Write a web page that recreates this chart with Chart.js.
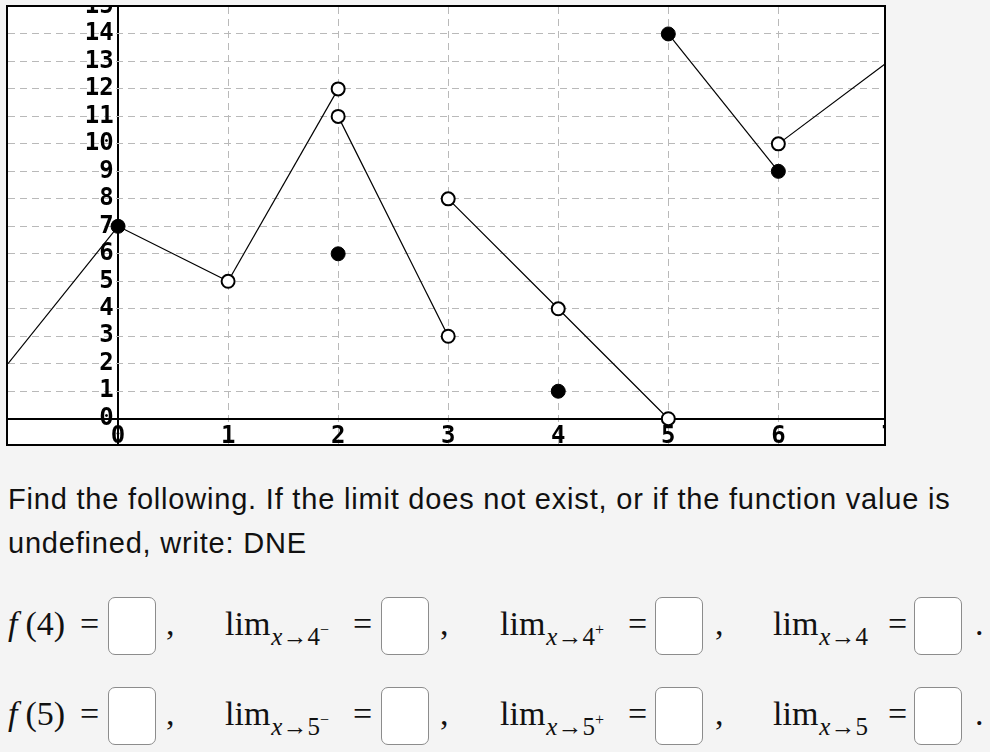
<!DOCTYPE html>
<html>
<head>
<meta charset="utf-8">
<script src="https://cdn.jsdelivr.net/npm/chart.js@4.4.1/dist/chart.umd.min.js"></script>
<style>
  html, body { margin: 0; padding: 0; background: #f4f4f4; }
  body { width: 990px; height: 752px; position: relative; overflow: hidden; }
  #frame { position: absolute; left: 6px; top: 5px; width: 876px; height: 437px;
           border: 2px solid #000; background: #fff; overflow: hidden; }
  #graph { position: absolute; left: -20px; top: -20px; }
  .prompt { position: absolute; left: 8px; top: 477px; width: 985px; letter-spacing: 0.8px;
            font-family: "Liberation Sans", Arial, sans-serif; font-size: 29px; line-height: 44px; color: #111; }
  .m { position: absolute; font-family: "Liberation Serif", "Times New Roman", serif;
       font-size: 34px; line-height: 34px; color: #111; white-space: nowrap; }
  .m i { font-style: italic; }
  .fn { margin-right: 8px; }
  .sub { font-size: 25px; vertical-align: -10px; margin-left: 1px; }
  .sup { font-size: 16px; vertical-align: 10px; }
  .box { position: absolute; width: 46px; height: 56px; background: #fff;
         border: 1.5px solid #8c8c8c; border-radius: 7px; }
</style>
</head>
<body>
<div id="frame"><canvas id="graph" width="916" height="477"></canvas></div>

<div class="prompt">Find the following. If the limit does not exist, or if the function value is<br>undefined, write: DNE</div>

<div id="answers"></div>

<script>
// graph pieces
const segX = [[-1, 0], [0, 1], [1, 2], [2, 3], [3, 4, 5], [5, 6], [6, 7]];
const segY = [[2, 7], [7, 5], [5, 12], [11, 3], [8, 4, 0], [14, 9], [10, 13]];
const filledX = [0, 2, 4, 5, 6];
const filledY = [7, 6, 1, 14, 9];
const openX = [1, 2, 2, 3, 3, 4, 5, 6];
const openY = [5, 12, 11, 3, 8, 4, 0, 10];
const xTickValues = [0, 1, 2, 3, 4, 5, 6, 7];
const yTickValues = [0, 1, 2, 3, 4, 5, 6, 7, 8, 9, 10, 11, 12, 13, 14, 15];

const toPts = (xs, ys) => xs.map((x, i) => ({ x: x, y: ys[i] }));

const datasets = [
    { data: toPts(filledX, filledY), showLine: false, pointRadius: 7, pointBorderWidth: 1,
      pointBackgroundColor: '#000', pointBorderColor: '#000' },
    { data: toPts(openX, openY), showLine: false, pointRadius: 6.5, pointBorderWidth: 2,
      pointBackgroundColor: '#fff', pointBorderColor: '#000' }
];
segX.forEach((xs, i) => {
    datasets.push({ data: toPts(xs, segY[i]), showLine: true, pointRadius: 0,
        borderColor: '#000', borderWidth: 1.2 });
});

const tickFont = { family: 'DejaVu Sans Mono', weight: 'bold', size: 24 };
const isZero = (ctx) => ctx.tick && ctx.tick.value === 0;

new Chart(document.getElementById('graph'), {
    type: 'scatter',
    data: { datasets: datasets },
    options: {
        responsive: false, animation: false,
        layout: { padding: 20 },
        plugins: { legend: { display: false }, tooltip: { enabled: false } },
        scales: {
            x: {
                type: 'linear', min: -1, max: 6.96, position: { y: 0 },
                afterBuildTicks: (s) => { s.ticks = xTickValues.map(v => ({ value: v })); },
                // the x = 0 grid line doubles as the y axis
                grid: { color: (ctx) => isZero(ctx) ? '#000' : '#b9b9b9',
                        lineWidth: (ctx) => isZero(ctx) ? 2 : 1, drawTicks: false },
                border: { display: true, color: '#000', width: 2,
                          dash: (ctx) => isZero(ctx) ? [] : [7, 5] },
                ticks: { autoSkip: false, maxRotation: 0, padding: 4, color: '#000', font: tickFont }
            },
            y: {
                type: 'linear', min: -0.92, max: 14.98, position: { x: -0.04 },
                afterBuildTicks: (s) => { s.ticks = yTickValues.map(v => ({ value: v })); },
                grid: { color: (ctx) => isZero(ctx) ? 'rgba(0,0,0,0)' : '#b9b9b9',
                        lineWidth: 1, drawTicks: false },
                border: { display: false, dash: [7, 5] },
                ticks: { autoSkip: false, color: '#000', font: tickFont }
            }
        }
    }
});

// answer rows under the graph
const rowTops = [607, 697];
const rowNums = ['4', '5'];
const ans = document.getElementById('answers');
function put(html, left, top) {
    const d = document.createElement('div');
    d.className = 'm';
    d.style.left = left + 'px';
    d.style.top = top + 'px';
    d.innerHTML = html;
    ans.appendChild(d);
}
function box(left, top) {
    const d = document.createElement('div');
    d.className = 'box';
    d.style.left = left + 'px';
    d.style.top = top + 'px';
    ans.appendChild(d);
}
rowTops.forEach((t, r) => {
    const n = rowNums[r];
    const bt = t - 10;
    put('<i class="fn">f</i>(' + n + ')', 8, t); put('=', 80, t); box(108, bt); put(',', 166, t);
    put('lim<span class="sub"><i>x</i>→' + n + '<span class="sup">−</span></span>', 225, t);
    put('=', 353, t); box(381, bt); put(',', 440, t);
    put('lim<span class="sub"><i>x</i>→' + n + '<span class="sup">+</span></span>', 500, t);
    put('=', 628, t); box(655, bt); put(',', 715, t);
    put('lim<span class="sub"><i>x</i>→' + n + '</span>', 773, t);
    put('=', 888, t); box(914, bt); put('.', 975, t);
});
</script>
</body>
</html>
